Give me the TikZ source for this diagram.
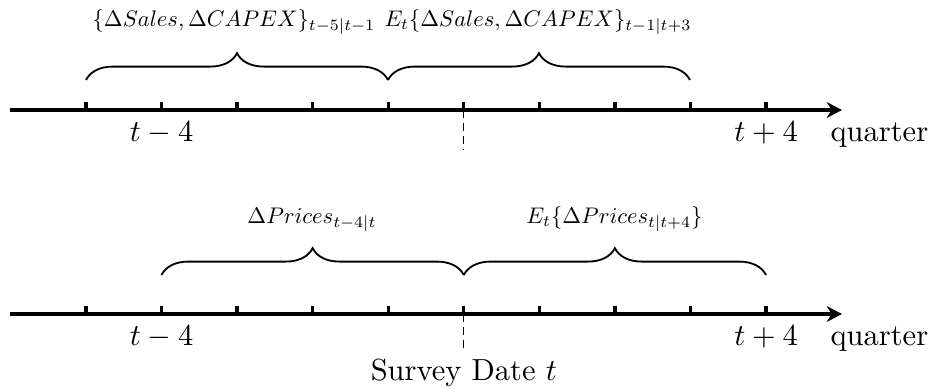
\documentclass[tikz,border=0pt]{standalone}
\usetikzlibrary{decorations.pathreplacing,arrows.meta}
\newcommand{\brtext}[1]{\scalebox{0.74}{#1}}
\begin{document}
\begin{tikzpicture}[x=0.32787pt,y=-0.32787pt,
  axisline/.style={line width=1.25pt,-{Stealth[length=5pt,width=5.2pt,inset=1.6pt]}},
  tickline/.style={line width=1.1pt},
  bracepath/.style={decorate,decoration={brace,amplitude=8.8pt},line width=0.6pt},
  guide/.style={line width=0.4pt,dash pattern=on 2.6pt off 1.7pt},
  axlabel/.style={anchor=base,inner sep=0pt,font=\normalsize},
  brlabel/.style={anchor=base,inner sep=0pt,font=\normalsize}]
\useasboundingbox (0,0) rectangle (930,388);
% ---------- top timeline ----------
\coordinate (As) at (10,110);
\coordinate (Ae) at (842,110);
\draw[axisline] (As) -- (Ae);
\foreach \i in {0,...,9}{
  \coordinate (T\i) at ({86+75.56*\i},110);
  \draw[tickline] (T\i) -- ++(0,-8);
}
\coordinate (Tg) at ({86+75.56*5},150);
\draw[guide] (T5) -- (Tg);
\node[axlabel] (tma) at ({86+75.56},141.5) {$t-4$};
\node[axlabel] (tpa) at ({86+75.56*9},141.5) {$t+4$};
\node[axlabel,anchor=base west] (qa) at (830,141.5) {quarter};
\coordinate (ba0) at (86,80);
\coordinate (ba1) at (388,80);
\coordinate (ba2) at (690,80);
\draw[bracepath] (ba0) -- (ba1);
\draw[bracepath] (ba1) -- (ba2);
\node[brlabel] (la) at (234,26) {\brtext{$\{\Delta Sales,\Delta CAPEX\}_{t-5|t-1}$}};
\node[brlabel] (lb) at (538,26) {\brtext{$E_t\{\Delta Sales,\Delta CAPEX\}_{t-1|t+3}$}};
% ---------- bottom timeline ----------
\coordinate (Bs) at (10,314);
\coordinate (Be) at (842,314);
\draw[axisline] (Bs) -- (Be);
\foreach \i in {0,...,9}{
  \coordinate (U\i) at ({86+75.56*\i},314);
  \draw[tickline] (U\i) -- ++(0,-8);
}
\coordinate (Ug) at ({86+75.56*5},353);
\draw[guide] (U5) -- (Ug);
\node[axlabel] (tmb) at ({86+75.56},345) {$t-4$};
\node[axlabel] (tpb) at ({86+75.56*9},345) {$t+4$};
\node[axlabel,anchor=base west] (qb) at (830,345) {quarter};
\coordinate (bb0) at (161.5,275);
\coordinate (bb1) at (463.8,275);
\coordinate (bb2) at (766,275);
\draw[bracepath] (bb0) -- (bb1);
\draw[bracepath] (bb1) -- (bb2);
\node[brlabel] (lc) at (312,223) {\brtext{$\Delta Prices_{t-4|t}$}};
\node[brlabel] (ld) at (614.5,223) {\brtext{$E_t\{\Delta Prices_{t|t+4}\}$}};
\node[axlabel] (sd) at (463.8,380.7) {Survey Date $t$};
\end{tikzpicture}
\end{document}
